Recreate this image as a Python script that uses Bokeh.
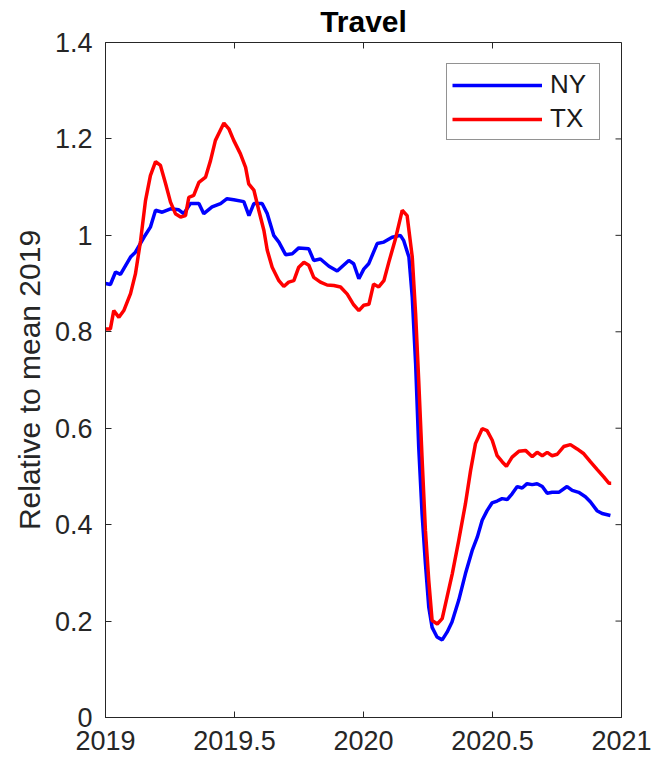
import math
from bokeh.plotting import figure
from bokeh.models import Range1d, FixedTicker, LinearAxis, Legend, LegendItem, Title
from bokeh.embed import file_html
from bokeh.resources import INLINE

# Travel activity relative to the 2019 mean, by state (decimal year on x)
ny_t = [2019.000, 2019.019, 2019.039, 2019.058, 2019.097, 2019.116, 2019.149, 2019.174,
        2019.194, 2019.220, 2019.252, 2019.284, 2019.303, 2019.329, 2019.362, 2019.381,
        2019.413, 2019.446, 2019.471, 2019.497, 2019.536, 2019.556, 2019.575, 2019.607,
        2019.627, 2019.652, 2019.672, 2019.698, 2019.724, 2019.749, 2019.788, 2019.807,
        2019.833, 2019.866, 2019.898, 2019.943, 2019.962, 2019.982, 2020.001, 2020.020,
        2020.053, 2020.079, 2020.111, 2020.143, 2020.156, 2020.176, 2020.189, 2020.202,
        2020.214, 2020.227, 2020.240, 2020.253, 2020.266, 2020.285, 2020.305, 2020.324,
        2020.343, 2020.369, 2020.395, 2020.421, 2020.441, 2020.460, 2020.479, 2020.498,
        2020.518, 2020.537, 2020.557, 2020.576, 2020.596, 2020.615, 2020.634, 2020.654,
        2020.673, 2020.693, 2020.712, 2020.731, 2020.757, 2020.789, 2020.809, 2020.834,
        2020.860, 2020.880, 2020.905, 2020.925, 2020.957]
ny_v = [0.900, 0.898, 0.924, 0.919, 0.955, 0.965, 0.996, 1.017,
        1.052, 1.048, 1.055, 1.053, 1.045, 1.066, 1.066, 1.045,
        1.059, 1.066, 1.076, 1.074, 1.070, 1.041, 1.066, 1.066,
        1.045, 1.000, 0.986, 0.960, 0.962, 0.974, 0.972, 0.948,
        0.951, 0.936, 0.926, 0.948, 0.941, 0.910, 0.930, 0.941,
        0.983, 0.986, 0.996, 1.000, 0.989, 0.955, 0.872, 0.734,
        0.561, 0.423, 0.319, 0.229, 0.187, 0.167, 0.161, 0.177,
        0.198, 0.243, 0.298, 0.346, 0.374, 0.409, 0.429, 0.445,
        0.449, 0.454, 0.452, 0.464, 0.479, 0.476, 0.485, 0.483,
        0.485, 0.479, 0.465, 0.467, 0.467, 0.479, 0.471, 0.467,
        0.458, 0.447, 0.429, 0.423, 0.419]

tx_t = [2019.000, 2019.019, 2019.032, 2019.052, 2019.071, 2019.097, 2019.116, 2019.136,
        2019.155, 2019.174, 2019.194, 2019.213, 2019.233, 2019.252, 2019.271, 2019.291,
        2019.310, 2019.323, 2019.342, 2019.362, 2019.388, 2019.407, 2019.426, 2019.459,
        2019.478, 2019.497, 2019.523, 2019.543, 2019.555, 2019.575, 2019.594, 2019.614,
        2019.627, 2019.646, 2019.672, 2019.691, 2019.710, 2019.730, 2019.749, 2019.769,
        2019.788, 2019.807, 2019.833, 2019.859, 2019.885, 2019.911, 2019.937, 2019.962,
        2019.982, 2020.001, 2020.021, 2020.039, 2020.059, 2020.079, 2020.098, 2020.124,
        2020.150, 2020.169, 2020.189, 2020.202, 2020.214, 2020.228, 2020.240, 2020.253,
        2020.266, 2020.286, 2020.305, 2020.324, 2020.344, 2020.369, 2020.395, 2020.415,
        2020.434, 2020.460, 2020.479, 2020.499, 2020.518, 2020.538, 2020.554, 2020.576,
        2020.602, 2020.628, 2020.654, 2020.673, 2020.693, 2020.712, 2020.731, 2020.751,
        2020.776, 2020.802, 2020.828, 2020.854, 2020.880, 2020.906, 2020.931, 2020.951,
        2020.960]
tx_v = [0.806, 0.806, 0.844, 0.830, 0.844, 0.879, 0.920, 0.989,
        1.072, 1.124, 1.153, 1.145, 1.107, 1.069, 1.045, 1.038,
        1.041, 1.079, 1.083, 1.110, 1.121, 1.155, 1.197, 1.233,
        1.221, 1.197, 1.169, 1.141, 1.107, 1.094, 1.052, 1.010,
        0.969, 0.934, 0.906, 0.894, 0.903, 0.906, 0.934, 0.944,
        0.938, 0.913, 0.903, 0.897, 0.896, 0.893, 0.878, 0.856,
        0.844, 0.855, 0.857, 0.899, 0.893, 0.906, 0.944, 0.993,
        1.052, 1.041, 0.955, 0.837, 0.699, 0.526, 0.388, 0.284,
        0.201, 0.194, 0.205, 0.250, 0.298, 0.367, 0.443, 0.512,
        0.568, 0.599, 0.595, 0.575, 0.543, 0.530, 0.521, 0.540,
        0.552, 0.554, 0.541, 0.550, 0.543, 0.550, 0.543, 0.546,
        0.562, 0.566, 0.557, 0.547, 0.530, 0.514, 0.499, 0.486,
        0.486]

x_ticks = [2019, 2019.5, 2020, 2020.5, 2021]
x_tick_labels = ["2019", "2019.5", "2020", "2020.5", "2021"]
y_ticks = [0, 0.2, 0.4, 0.6, 0.8, 1.0, 1.2, 1.4]
y_tick_labels = ["0", "0.2", "0.4", "0.6", "0.8", "1", "1.2", "1.4"]

X_MIN, X_MAX = 2019, 2021
Y_MIN, Y_MAX = 0, 1.4

FONT = "Liberation Sans"
AXIS_COLOR = "#262626"
TICK_LEN = 6

p = figure(width=652, height=764, output_backend="svg", toolbar_location=None,
           x_range=Range1d(X_MIN, X_MAX), y_range=Range1d(Y_MIN, Y_MAX),
           min_border_left=105, min_border_right=31, min_border_top=42,
           min_border_bottom=47, background_fill_color="white",
           border_fill_color="white")
p.xaxis.visible = False
p.yaxis.visible = False
p.xgrid.visible = False
p.ygrid.visible = False
p.outline_line_color = AXIS_COLOR
p.outline_line_width = 1


def style_axis(ax, ticks, labels):
    ax.ticker = FixedTicker(ticks=ticks)
    ax.major_label_overrides = {t: l for t, l in zip(ticks, labels)}
    ax.major_tick_in = TICK_LEN
    ax.major_tick_out = 0
    ax.minor_tick_in = 0
    ax.minor_tick_out = 0
    ax.major_tick_line_color = AXIS_COLOR
    ax.axis_line_color = AXIS_COLOR
    ax.major_label_text_font = FONT
    ax.major_label_text_color = AXIS_COLOR
    ax.major_label_text_font_size = "27px"
    ax.major_label_standoff = 13


xb = LinearAxis()
style_axis(xb, x_ticks, x_tick_labels)
p.add_layout(xb, "below")

yl = LinearAxis(axis_label="Relative to mean 2019")
style_axis(yl, y_ticks, y_tick_labels)
yl.axis_label_text_font = FONT
yl.axis_label_text_font_size = "30px"
yl.axis_label_text_font_style = "normal"
yl.axis_label_text_color = AXIS_COLOR
yl.axis_label_standoff = 6
p.add_layout(yl, "left")

# inward tick marks on the top and right edges of the box
p.ray(x=x_ticks, y=[Y_MAX] * len(x_ticks), length=TICK_LEN, length_units="screen",
      angle=-math.pi / 2, line_color=AXIS_COLOR, line_width=1)
p.ray(x=[X_MAX] * len(y_ticks), y=y_ticks, length=TICK_LEN, length_units="screen",
      angle=math.pi, line_color=AXIS_COLOR, line_width=1)

p.add_layout(Title(text="Travel", align="center", vertical_align="top",
                   text_font=FONT, text_font_size="30px", text_font_style="bold",
                   text_color="black", standoff=6), "above")

r_ny = p.line(ny_t, ny_v, line_color="#0000FF", line_width=3.5)
r_tx = p.line(tx_t, tx_v, line_color="#FF0000", line_width=3.5)

legend = Legend(items=[LegendItem(label="NY", renderers=[r_ny]),
                       LegendItem(label="TX", renderers=[r_tx])],
                location="top_right", margin=21, padding=5, spacing=3,
                glyph_width=90, glyph_height=20, label_standoff=8,
                label_width=44, label_text_font=FONT, label_text_font_size="26px",
                label_text_color="#1a1a1a", border_line_color=AXIS_COLOR,
                border_line_width=1, background_fill_color="white",
                background_fill_alpha=1)
p.add_layout(legend, "center")

open("out.html", "w").write(file_html(p, INLINE))
